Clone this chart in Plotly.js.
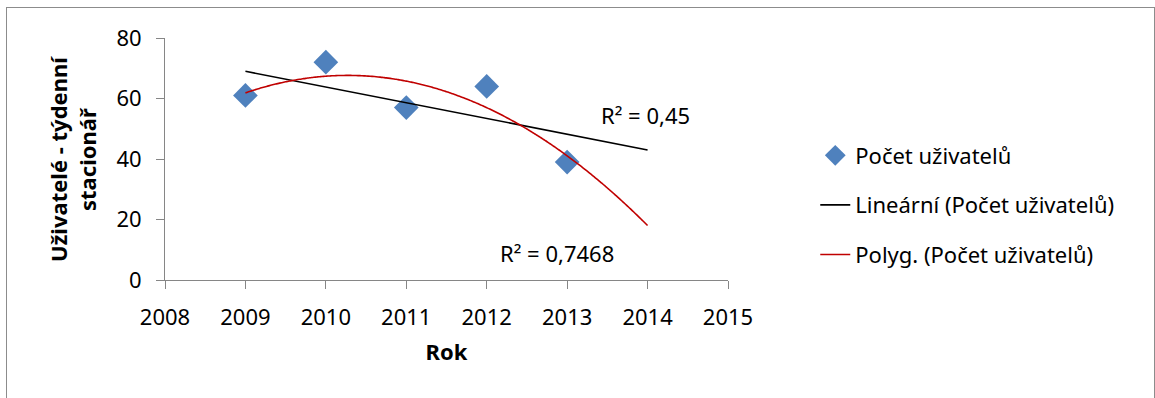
<!DOCTYPE html>
<html>
<head>
<meta charset="utf-8">
<script src="https://cdn.plot.ly/plotly-3.0.1.min.js"></script>
<style>
  html, body { margin: 0; padding: 0; background: #fff; }
  #chart { width: 1155px; height: 398px; position: absolute; left: 0; top: 0; }
  #frame { position: absolute; left: 6px; top: 7px; width: 1147px; height: 400px;
           border: 1px solid #8c8c8c; pointer-events: none; }
</style>
</head>
<body>
<div id="chart"></div>
<div id="frame"></div>
<script>
// Data
const years = [2009, 2010, 2011, 2012, 2013];
const users = [61, 72, 57, 64, 39];
const seriesName = 'Počet uživatelů';
const linearName = 'Lineární (Počet uživatelů)';
const polyName = 'Polyg. (Počet uživatelů)';
const xTicks = [2008, 2009, 2010, 2011, 2012, 2013, 2014, 2015];
const yTicks = [0, 20, 40, 60, 80];
const r2Linear = 'R² = 0,45';
const r2Poly = 'R² = 0,7468';
const forecastEnd = 2014; // trendlines extended one period forward

// Least-squares fits of the data (as the spreadsheet trendlines do)
function solve(A, b) {
  const n = b.length;
  const M = A.map((r, i) => r.concat([b[i]]));
  for (let i = 0; i < n; i++) {
    let p = i;
    for (let k = i + 1; k < n; k++) if (Math.abs(M[k][i]) > Math.abs(M[p][i])) p = k;
    [M[i], M[p]] = [M[p], M[i]];
    for (let k = i + 1; k < n; k++) {
      const f = M[k][i] / M[i][i];
      for (let j = i; j <= n; j++) M[k][j] -= f * M[i][j];
    }
  }
  const x = new Array(n).fill(0);
  for (let i = n - 1; i >= 0; i--) {
    let s = M[i][n];
    for (let j = i + 1; j < n; j++) s -= M[i][j] * x[j];
    x[i] = s / M[i][i];
  }
  return x;
}
function polyfit(xs, ys, deg) {
  const x0 = xs[0];
  const A = [], b = [];
  for (let i = 0; i <= deg; i++) {
    A.push([]);
    for (let j = 0; j <= deg; j++) A[i].push(xs.reduce((s, x) => s + Math.pow(x - x0, i + j), 0));
    b.push(xs.reduce((s, x, k) => s + ys[k] * Math.pow(x - x0, i), 0));
  }
  const c = solve(A, b);
  return x => c.reduce((s, ci, i) => s + ci * Math.pow(x - x0, i), 0);
}
const lin = polyfit(years, users, 1);
const quad = polyfit(years, users, 2);
const x0 = years[0];
const linX = [x0, forecastEnd];
const quadX = [];
for (let i = 0; i <= 200; i++) quadX.push(x0 + (forecastEnd - x0) * i / 200);

const font = "'Noto Sans', 'Open Sans', sans-serif";
const traces = [
  { x: years, y: users, type: 'scatter', mode: 'markers', name: seriesName,
    legendgroup: 'a',
    marker: { symbol: 'diamond', size: 19, color: '#4F81BD' } },
  { x: linX, y: linX.map(lin), type: 'scatter', mode: 'lines', name: linearName,
    legendgroup: 'b',
    line: { color: '#000000', width: 1.6 } },
  { x: quadX, y: quadX.map(quad), type: 'scatter', mode: 'lines', name: polyName,
    legendgroup: 'c',
    line: { color: '#C00000', width: 1.6, shape: 'spline' } }
];

const axisCommon = {
  showgrid: false, zeroline: false, showline: true, linecolor: '#868686', linewidth: 1,
  ticks: 'outside', ticklen: 8, tickcolor: '#868686', tickwidth: 1,
  ticklabelstandoff: 10,
  tickfont: { family: font, size: 22, color: '#000' }
};

const layout = {
  width: 1155, height: 398,
  margin: { l: 165, r: 427, t: 38, b: 118 },
  paper_bgcolor: '#fff', plot_bgcolor: '#fff',
  showlegend: true,
  xaxis: Object.assign({}, axisCommon, {
    range: [2008, 2015], tickvals: xTicks, ticktext: xTicks.map(String),
    title: { text: '<b>Rok</b>', font: { family: font, size: 22, color: '#000' }, standoff: 14 }
  }),
  yaxis: Object.assign({}, axisCommon, {
    range: [0, 80], tickvals: yTicks, ticktext: yTicks.map(String)
  }),
  legend: {
    x: 1.155, xanchor: 'left', y: 0.31, yanchor: 'middle',
    traceorder: 'grouped', tracegroupgap: 18,
    font: { family: font, size: 22, color: '#000' },
    bgcolor: 'rgba(0,0,0,0)'
  },
  annotations: [
    { xref: 'x', yref: 'y', x: 2013.97, y: 54.5, text: r2Linear, showarrow: false,
      font: { family: font, size: 22, color: '#000' }, xanchor: 'center', yanchor: 'middle' },
    { xref: 'x', yref: 'y', x: 2012.88, y: 8.9, text: r2Poly, showarrow: false,
      font: { family: font, size: 22, color: '#000' }, xanchor: 'center', yanchor: 'middle' },
    { xref: 'paper', yref: 'paper', x: -0.165, y: 0.5, textangle: -90,
      text: '<b>Uživatelé - týdenní<br>stacionář</b>', showarrow: false,
      font: { family: font, size: 22, color: '#000' }, xanchor: 'center', yanchor: 'middle' }
  ]
};

Plotly.newPlot('chart', traces, layout, { displayModeBar: false, staticPlot: true });
</script>
</body>
</html>
